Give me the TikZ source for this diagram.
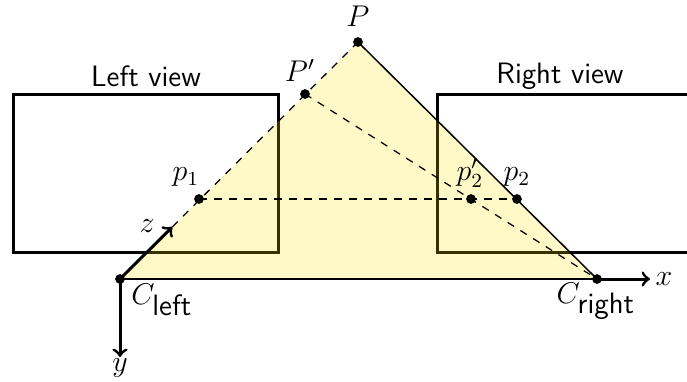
\documentclass[tikz,border=0pt]{standalone}
\usetikzlibrary{calc}
\begin{document}
\begin{tikzpicture}[x=0.4pt,y=-0.4pt,
  every node/.style={font=\fontsize{11.8}{14}\selectfont},
  dot/.style={circle,fill=black,inner sep=0pt,minimum size=3.9pt},
  viewbox/.style={draw=black,line width=1.2pt},
  axis/.style={line width=1.2pt,->},
  ray/.style={dashed,line width=0.5pt}]
\useasboundingbox (0,0) rectangle (687,381);
\clip (0,0) rectangle (687,381);
% camera centres and points
\coordinate (Cl) at (120,279);
\coordinate (Cr) at (597,279);
\coordinate (P) at (358,42);
\coordinate (Pp) at (305,94);
\coordinate (p1) at (199,199);
\coordinate (p2p) at (471,199);
\coordinate (p2) at (517,199);
% image planes
\draw[viewbox] (13,94) rectangle (278,252);
\draw[viewbox] (437,94) rectangle (700,252);
\node at (146,76) {\textsf{Left view}};
\node at (560,76) {\textsf{Right view}};
% triangle
\fill[yellow!85!orange,fill opacity=0.22] (Cl) -- (P) -- (Cr) -- cycle;
\draw[line width=0.6pt] (P) -- (Cr);
\draw[line width=0.6pt] (Cl) -- (Cr);
\coordinate (zt) at ($(Cl)!0.22!(P)$);
\draw[ray] (zt) -- (P);
\draw[ray] (Pp) -- (Cr);
\draw[ray] (p1) -- (p2);
% axes
\coordinate (xt) at (650,279);
\coordinate (yt) at (120,357);
\draw[axis] (Cl) -- (zt);
\draw[axis] (Cr) -- (xt);
\draw[axis] (Cl) -- (yt);
\node[anchor=west,inner sep=2pt] at (xt) {$x$};
\node at (120,368) {$y$};
\node at (147,226) {$z$};
% points
\node[dot] (nP) at (P) {};
\node[dot] (nPp) at (Pp) {};
\node[dot] (n1) at (p1) {};
\node[dot] (n2p) at (p2p) {};
\node[dot] (n2) at (p2) {};
\node[dot] (nCl) at (Cl) {};
\node[dot] (nCr) at (Cr) {};
\node at (358,16) {$P$};
\node at (300,70) {$P'$};
\node at (186,177) {$p_1$};
\node at (470,173) {$p_2'$};
\node at (517,177) {$p_2$};
\node at (162,300) {$C_{\textsf{left}}$};
\node at (596,301) {$C_{\textsf{right}}$};
\end{tikzpicture}
\end{document}
